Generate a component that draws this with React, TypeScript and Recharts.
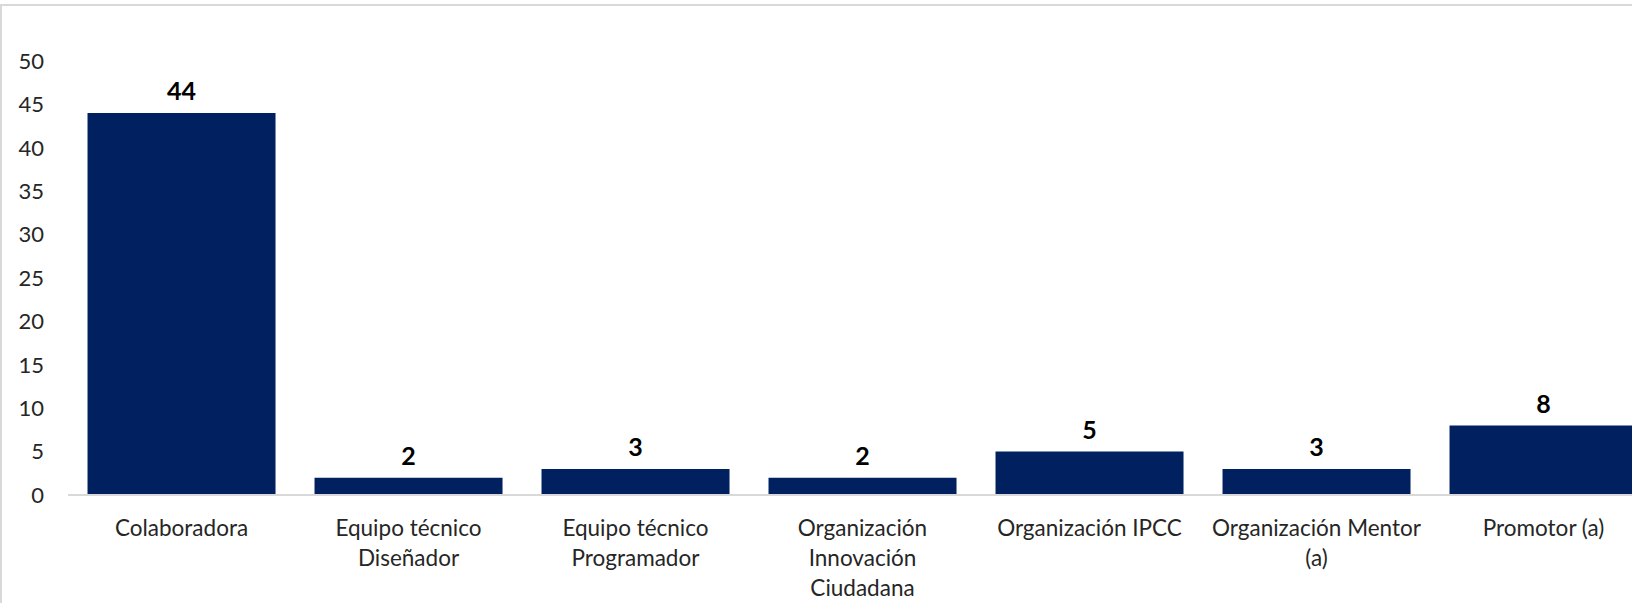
import { BarChart, Bar, XAxis, YAxis, LabelList } from "recharts";

const categories = [
  "Colaboradora",
  "Equipo técnico Diseñador",
  "Equipo técnico Programador",
  "Organización Innovación Ciudadana",
  "Organización IPCC",
  "Organización Mentor (a)",
  "Promotor (a)",
];
const counts = [44, 2, 3, 2, 5, 3, 8];
const yTicks = [0, 5, 10, 15, 20, 25, 30, 35, 40, 45, 50];

const data = categories.map((name, i) => ({ name, value: counts[i] }));

const FONT = "Lato, 'Open Sans', sans-serif";
const MAX_CHARS = 19;

// greedy word wrap, roughly what Excel does for narrow category slots
function wrap(label: string): string[] {
  const lines: string[] = [];
  let cur = "";
  for (const w of label.split(" ")) {
    const next = cur ? cur + " " + w : w;
    if (next.length > MAX_CHARS && cur) {
      lines.push(cur);
      cur = w;
    } else {
      cur = next;
    }
  }
  if (cur) lines.push(cur);
  return lines;
}

function CategoryTick(props: any) {
  const { x, y, payload } = props;
  const lines = wrap(String(payload.value));
  return (
    <text
      x={x}
      y={y}
      textAnchor="middle"
      fill="#262626"
      fontFamily={FONT}
      fontSize={22.5}
    >
      {lines.map((line, i) => (
        <tspan key={i} x={x} dy={i === 0 ? 33 : 30}>
          {line}
        </tspan>
      ))}
    </text>
  );
}

export default function App() {
  return (
    <div
      style={{
        position: "fixed",
        left: 0,
        top: 0,
        width: 1632,
        height: 603,
        overflow: "hidden",
        background: "#fff",
      }}
    >
      <div
        style={{
          position: "absolute",
          left: 0,
          top: 4,
          width: 1700,
          height: 700,
          border: "2px solid #d9d9d9",
          boxSizing: "border-box",
        }}
      />
      <div style={{ position: "absolute", left: 0, top: 0 }}>
        <BarChart
          width={1660}
          height={603}
          data={data}
          margin={{ top: 61, right: 3, left: 0, bottom: 8 }}
          barCategoryGap="8.6%"
        >
          <XAxis
            dataKey="name"
            interval={0}
            height={100}
            tickLine={false}
            axisLine={{ stroke: "#d9d9d9", strokeWidth: 2 }}
            tick={<CategoryTick />}
          />
          <YAxis
            width={68}
            domain={[0, 50]}
            ticks={yTicks}
            axisLine={false}
            tickLine={false}
            tickMargin={18}
            tick={{ fill: "#262626", fontSize: 22, fontFamily: FONT }}
          />
          <Bar dataKey="value" fill="#002060" isAnimationActive={false}>
            <LabelList
              dataKey="value"
              position="top"
              offset={13}
              fill="#000"
              fontSize={25}
              fontWeight="bold"
              fontFamily={FONT}
            />
          </Bar>
        </BarChart>
      </div>
    </div>
  );
}
